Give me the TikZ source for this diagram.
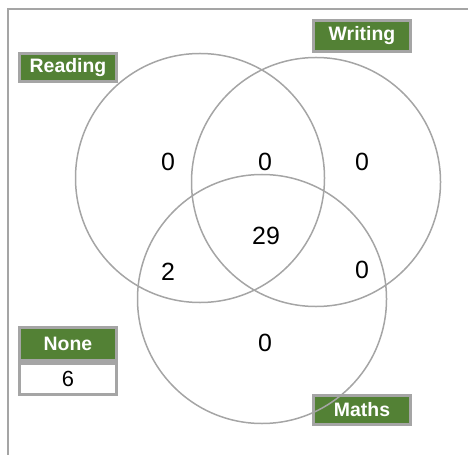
\documentclass[tikz,border=0pt]{standalone}
\usepackage{fontspec}
\setmainfont{Liberation Sans}
\usetikzlibrary{positioning}
\definecolor{setgreen}{HTML}{538135}
\definecolor{edgegray}{HTML}{A5A5A5}

\begin{document}
\begin{tikzpicture}[x=1bp,y=-1bp,
  setlabel/.style={fill=setgreen,draw=edgegray,line width=3bp,text=white,font=\bfseries\fontsize{19.5}{22}\selectfont,minimum width=97bp,inner sep=0pt},
  setcircle/.style={circle,draw=edgegray,line width=1.5bp,minimum size=249bp,inner sep=0pt},
  count/.style={font=\fontsize{25}{28}\selectfont,inner sep=0pt}]
\useasboundingbox (0,0) rectangle (468,455);
\draw[edgegray,line width=2bp] (8,455) -- (8,9) -- (468,9);
% set names
\node[setlabel,minimum height=28bp] (lread) at (68,67.5) {Reading};
\node[setlabel,minimum height=31bp] (lwrite) at (362,36) {Writing};
\node[setlabel,minimum height=29bp] (lmaths) at (362,409.5) {Maths};
\node[setlabel,minimum height=33bp] (lnone) at (68,344) {None};
\node[setlabel,fill=white,text=black,font=\fontsize{22}{24}\selectfont,minimum height=31bp,below=0pt of lnone] (vnone) {6};
% the three sets
\node[setcircle] (read) at (200,178) {};
\node[setcircle] (write) at (316,182) {};
\node[setcircle] (maths) at (262,299) {};
% counts
\node[count] (nr) at (168,162) {0};
\node[count] (nrw) at (265,162) {0};
\node[count] (nw) at (362,162) {0};
\node[count] (nall) at (266,236) {29};
\node[count] (nrm) at (168,272) {2};
\node[count] (nwm) at (362,270) {0};
\node[count] (nm) at (265,343) {0};
\end{tikzpicture}
\end{document}
